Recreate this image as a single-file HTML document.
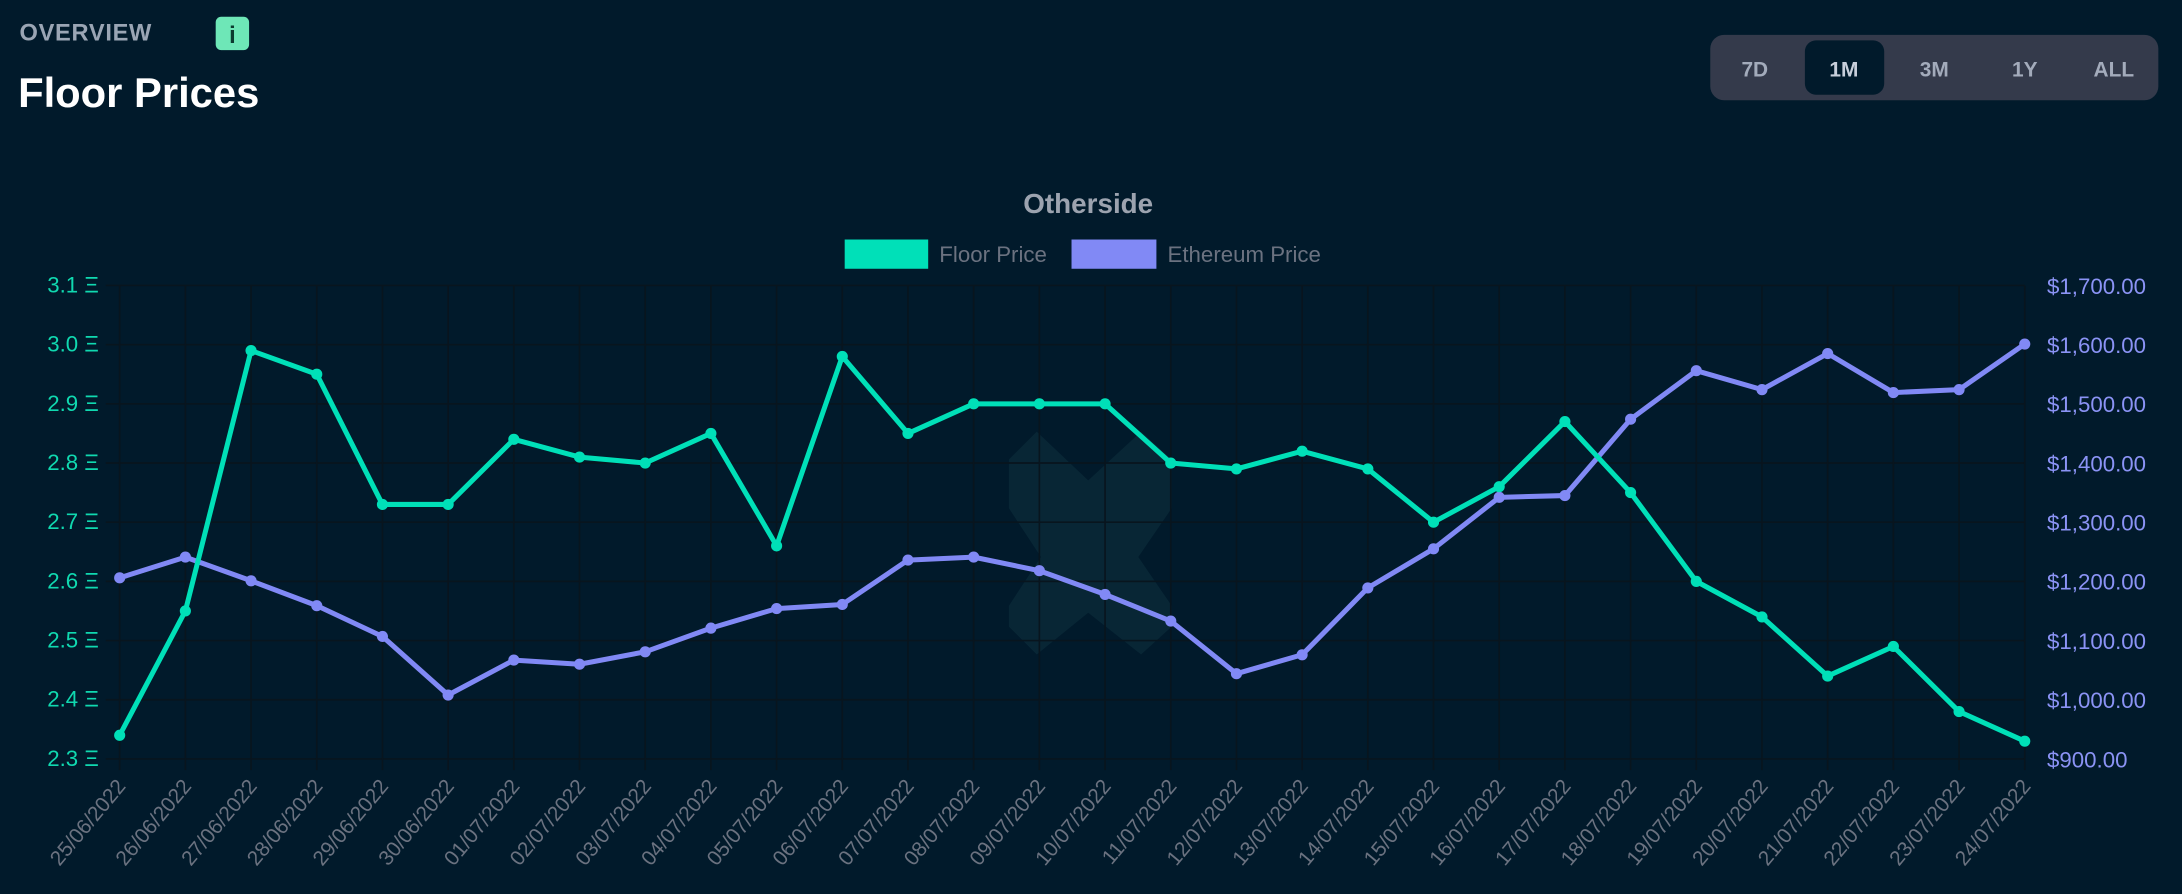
<!DOCTYPE html>
<html><head><meta charset="utf-8">
<style>
html,body{margin:0;padding:0;background:#011a2b;}
body{width:2182px;height:894px;overflow:hidden;font-family:"Liberation Sans",sans-serif;}
svg{display:block}
</style></head>
<body>
<svg id="chart" width="2182" height="894" viewBox="0 0 1568 642" preserveAspectRatio="none" font-family="Liberation Sans, sans-serif">
  <rect x="0" y="0" width="1568" height="642" fill="#011a2b"/>
  <text x="14" y="29" fill="#9aa5b4" font-size="17" font-weight="bold" letter-spacing="0.5">OVERVIEW</text>
  <g>
    <rect x="155" y="12" width="24" height="24" rx="4" fill="#6ee7b7"/>
    <text x="167" y="31" fill="#0b3b2f" font-size="17" font-weight="bold" text-anchor="middle">i</text>
  </g>
  <text x="13" y="77" fill="#ffffff" font-size="30" font-weight="bold">Floor Prices</text>
  <g>
    <rect x="1229" y="25" width="322" height="47" rx="10" fill="#343a4b"/>
    <rect x="1297" y="29" width="57" height="39" rx="8" fill="#011a2b"/>
    <text x="1261" y="55" fill="#a3abbb" font-size="15" font-weight="bold" text-anchor="middle">7D</text>
    <text x="1325" y="55" fill="#c8cfdb" font-size="15" font-weight="bold" text-anchor="middle">1M</text>
    <text x="1390" y="55" fill="#a3abbb" font-size="15" font-weight="bold" text-anchor="middle">3M</text>
    <text x="1455" y="55" fill="#a3abbb" font-size="15" font-weight="bold" text-anchor="middle">1Y</text>
    <text x="1519" y="55" fill="#a3abbb" font-size="15" font-weight="bold" text-anchor="middle">ALL</text>
  </g>
  <text x="782" y="153" fill="#9ca3af" font-size="20" font-weight="bold" text-anchor="middle">Otherside</text>
  <g>
    <rect x="607" y="172" width="60" height="21" fill="#00e0b8"/>
    <text x="675" y="188" fill="#6b7280" font-size="16">Floor Price</text>
  </g>
  <g>
    <rect x="770" y="172" width="61" height="21" fill="#8189f5"/>
    <text x="839" y="188" fill="#6b7280" font-size="16">Ethereum Price</text>
  </g>
  <polygon points="725,330 745,310 782,345 820,310 842,330 842,365 818,400 842,435 842,450 820,470 782,440 745,470 725,450 725,435 748,400 725,365" fill="#0c2c3a" opacity="0.7"/>
  <g id="grid"></g>
  <g id="axes"></g>
  <g id="series"></g>
</svg>
<script>
const dates=["25/06/2022","26/06/2022","27/06/2022","28/06/2022","29/06/2022","30/06/2022","01/07/2022","02/07/2022","03/07/2022","04/07/2022","05/07/2022","06/07/2022","07/07/2022","08/07/2022","09/07/2022","10/07/2022","11/07/2022","12/07/2022","13/07/2022","14/07/2022","15/07/2022","16/07/2022","17/07/2022","18/07/2022","19/07/2022","20/07/2022","21/07/2022","22/07/2022","23/07/2022","24/07/2022"];
const floorPrice=[2.34,2.55,2.99,2.95,2.73,2.73,2.84,2.81,2.80,2.85,2.66,2.98,2.85,2.90,2.90,2.90,2.80,2.79,2.82,2.79,2.70,2.76,2.87,2.75,2.60,2.54,2.44,2.49,2.38,2.33];
const ethPrice=[1206,1241,1201,1159,1107,1008,1067,1060,1081,1121,1154,1161,1236,1241,1218,1178,1133,1044,1076,1189,1255,1342,1345,1474,1556,1524,1585,1519,1524,1601];
const leftTicks=[2.3,2.4,2.5,2.6,2.7,2.8,2.9,3.0,3.1];
const leftTickLabels=["2.3 Ξ","2.4 Ξ","2.5 Ξ","2.6 Ξ","2.7 Ξ","2.8 Ξ","2.9 Ξ","3.0 Ξ","3.1 Ξ"];
const rightTicks=[900,1000,1100,1200,1300,1400,1500,1600,1700];
const rightTickLabels=["$900.00","$1,000.00","$1,100.00","$1,200.00","$1,300.00","$1,400.00","$1,500.00","$1,600.00","$1,700.00"];

const NS="http://www.w3.org/2000/svg";
const X0=86,X1=1455,YT=205,YB=545;
function xPos(i){return X0+(X1-X0)*i/(dates.length-1);}
function yLeft(v){return YB-(v-2.3)/(3.1-2.3)*(YB-YT);}
function yRight(v){return YB-(v-900)/(1700-900)*(YB-YT);}
function mk(tag,attrs,parent){const e=document.createElementNS(NS,tag);for(const k in attrs)e.setAttribute(k,attrs[k]);parent.appendChild(e);return e;}
const grid=document.getElementById('grid'),axes=document.getElementById('axes'),series=document.getElementById('series');

leftTicks.forEach((t,i)=>{
  const y=yLeft(t);
  const l=mk('line',{x1:X0-10,x2:X1,y1:y,y2:y,stroke:'#08151e','stroke-width':1.2},grid);
  
  
  const tx=mk('text',{x:71,y:y+5,fill:'#10d9b0','font-size':16,'text-anchor':'end'},axes);
  tx.textContent=leftTickLabels[i];
  
  
});
rightTicks.forEach((t,i)=>{
  const y=yRight(t);
  const tx=mk('text',{x:1471,y:y+6,fill:'#8b93f5','font-size':16},axes);
  tx.textContent=rightTickLabels[i];
  
  
});
dates.forEach((d,i)=>{
  const x=xPos(i);
  const l=mk('line',{x1:x,x2:x,y1:YT,y2:YB+8,stroke:'#08151e','stroke-width':1.2},grid);
  
  
  const tx=mk('text',{x:x+5,y:YB+20,fill:'#6b7280','font-size':15,'text-anchor':'end',transform:`rotate(-50 ${x+5} ${YB+20})`},axes);
  tx.textContent=d;
  
  
});
function drawSeries(vals,yf,color,name){
  const pts=vals.map((v,i)=>xPos(i)+','+yf(v)).join(' ');
  const pl=mk('polyline',{points:pts,fill:'none',stroke:color,'stroke-width':3.6,'stroke-linejoin':'round'},series);
  
  
  vals.forEach((v,i)=>{
    const c=mk('circle',{cx:xPos(i),cy:yf(v),r:4,fill:color},series);
    
    
  });
}
drawSeries(ethPrice,yRight,'#8189f5','ethereum-price');
drawSeries(floorPrice,yLeft,'#00e0b8','floor-price');
</script>
</body></html>
